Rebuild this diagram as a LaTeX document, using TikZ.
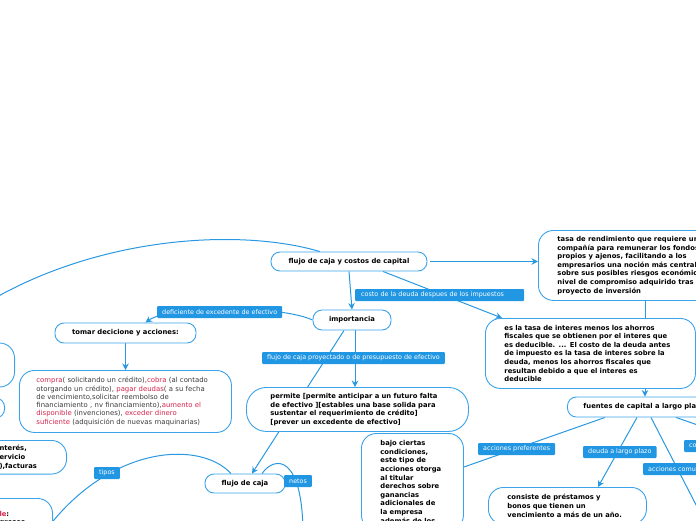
\documentclass[tikz,border=0pt]{standalone}
\usepackage{fontspec}
\setmainfont{DejaVu Sans}
\usetikzlibrary{arrows.meta,backgrounds}
\definecolor{mapblue}{HTML}{3AA3EA}
\definecolor{lineblue}{HTML}{2A98E0}
\definecolor{tagblue}{HTML}{2196E3}
\definecolor{accent}{HTML}{D6254D}
\definecolor{bodytext}{HTML}{3C3C3C}
\newcommand{\boldtext}{\fontsize{6.8}{8.6}\selectfont\bfseries}
\newcommand{\plaintext}{\fontsize{6.9}{8.3}\selectfont\color{bodytext}}
\newcommand{\tagtext}{\fontsize{6.4}{7}\selectfont}
\newcommand{\hl}[1]{\textcolor{accent}{#1}}
\begin{document}
\begin{tikzpicture}[x=1pt,y=-1pt]
	\tikzstyle{topic} = [draw=mapblue, line width=0.9pt, fill=white, rounded corners=9pt, font=\boldtext, inner xsep=8pt, inner ysep=2pt]
	\tikzstyle{bigtopic} = [topic, rounded corners=15pt, anchor=north west, align=left]
	\tikzstyle{tag} = [fill=tagblue, text=white, rounded corners=1pt, font=\tagtext, anchor=west, inner xsep=5pt, inner ysep=1pt, minimum height=12pt]
	\tikzstyle{link} = [draw=lineblue, line width=1pt]
	\tikzstyle{arr} = [link, -{Stealth[length=6.5pt,width=6.5pt]}]

	\useasboundingbox (0,0) rectangle (696,520);
	\clip (0,0) rectangle (696,520);

	% centre and right branch
	\node [topic, minimum width=156pt, minimum height=19pt] (main) at (349,261.5) {flujo de caja y costos de capital};
	\node [bigtopic, inner xsep=19pt, minimum height=70pt] (tasa) at (538,230) {tasa de rendimiento que requiere una\\compañía para remunerar los fondos\\propios y ajenos, facilitando a los\\empresarios una noción más central\\sobre sus posibles riesgos económicos y\\nivel de compromiso adquirido tras un\\proyecto de inversión};
	\node [topic, minimum width=78pt, minimum height=20pt] (imp) at (352,320) {importancia};
	\node [bigtopic, text width=172pt, inner xsep=19pt, minimum height=70pt] (deuda) at (485,318) {es la tasa de interes menos los ahorros\\fiscales que se obtienen por el interes que\\es deducible. ... El costo de la deuda antes\\de impuesto es la tasa de interes sobre la\\deuda, menos los ahorros fiscales que\\resultan debido a que el interes es\\deducible};
	\node [topic, anchor=west, inner xsep=16pt, minimum height=20pt] (fuentes) at (567,407) {fuentes de capital a largo plazo};
	\node [bigtopic, text width=64pt, inner xsep=19pt, inner ysep=7pt] (bajo) at (361,433) {bajo ciertas\\condiciones,\\este tipo de\\acciones otorga\\al titular\\derechos sobre\\ganancias\\adicionales de\\la empresa\\además de los};
	\node [bigtopic, text width=120pt, inner xsep=19pt, inner ysep=7pt] (consiste) at (488,487) {consiste de préstamos y\\bonos que tienen un\\vencimiento a más de un año.};

	% left branch
	\node [topic, minimum width=141pt, minimum height=20pt] (tomar) at (125.5,333) {tomar decicione y acciones:};
	\node [bigtopic, text width=178pt, inner xsep=17pt, minimum height=62pt, font=\plaintext] (compra) at (19,370) {\hl{compra}( solicitando un crédito),\hl{cobra} (al contado\\otorgando un crédito), \hl{pagar deudas}( a su fecha\\de vencimiento,solicitar reembolso de\\financiamiento , nv financiamiento),\hl{aumento el}\\\hl{disponible} (invenciones), \hl{exceder dinero}\\\hl{suficiente} (adquisición de nuevas maquinarias)};
	\node [bigtopic, rounded corners=20pt, text width=174pt, inner xsep=24pt, minimum height=44pt] (permite) at (246,387) {permite [permite anticipar a un futuro falta\\de efectivo ][estables una base solida para\\sustentar el requerimiento de crédito]\\{}[prever un excedente de efectivo]};
	\node [topic, minimum width=80pt, minimum height=19pt] (caja) at (245,483.5) {flujo de caja};
	\node [topic, anchor=east, rounded corners=15pt, minimum width=60pt, minimum height=44pt] (lbox1) at (15,365) {};
	\node [topic, anchor=east, minimum width=40pt, minimum height=20pt] (lbox2) at (5,408) {};
	\node [bigtopic, anchor=north east, text width=40pt, inner xsep=27pt, inner ysep=5pt] (lbox3) at (67,440) {nterés,\\ervicio\\),facturas};
	\node [bigtopic, anchor=north east, text width=34pt, inner xsep=19pt, inner ysep=5pt, minimum height=40pt] (lbox4) at (53,498) {\hl{le}:\\gresos};

	% free ends
	\coordinate (leftend) at (-12,302);
	\coordinate (netosend) at (303,535);
	\coordinate (tiposend) at (46,530);
	\coordinate (comunend) at (710,532);
	\coordinate (coend) at (712,430);

	\begin{scope}[on background layer]
		\draw [arr, shorten <=3pt] (main.east) -- (main.east -| tasa.west);
		\draw [arr] (main.south) -- (imp.north);
		\draw [arr] ([xshift=34pt]main.south) -- ([xshift=17pt]deuda.north west);
		\draw [arr] ([xshift=107pt]tasa.south west) -- ([xshift=78pt]fuentes.north west);
		\draw [link] ([xshift=-29pt]main.north) .. controls (240,228) and (100,236) .. (leftend);
		\draw [arr] (imp.west) .. controls (280,305) and (170,305) .. ([xshift=20pt]tomar.north);
		\draw [arr] (tomar.south) -- (tomar.south |- compra.north);
		\draw [arr] ([xshift=3pt]imp.south) -- ([xshift=109pt]permite.north west);
		\draw [arr] ([xshift=-8pt]imp.south) -- ([xshift=7pt]caja.north);
		\draw [link] ([xshift=17pt]caja.north) .. controls (275,455) and (303,455) .. (netosend);
		\draw [link] ([xshift=-14pt]caja.north) .. controls (200,440) and (110,445) .. (tiposend);
		\draw [link] ([xshift=38pt]fuentes.south west) -- ([yshift=-34pt]bajo.north east);
		\draw [arr] ([xshift=70pt]fuentes.south west) -- ([xshift=110pt]consiste.north west);
		\draw [link] ([xshift=84pt]fuentes.south west) -- (comunend);
		\draw [link] ([xshift=109pt]fuentes.south west) -- (coend);
	\end{scope}

	% labels on connectors
	\node [tag] (deflbl) at (157,312) {deficiente de excedente de efectivo};
	\node [tag, text width=157pt, inner xsep=6pt] (costolbl) at (355,295) {costo de la deuda despues de los impuestos};
	\node [tag] (proylbl) at (262,358) {flujo de caja proyectado o de presupuesto de efectivo};
	\node [tag] (netoslbl) at (284,481) {netos};
	\node [tag] (tiposlbl) at (94,473) {tipos};
	\node [tag] (preflbl) at (478,449) {acciones preferentes};
	\node [tag] (deudalbl) at (583,452) {deuda a largo plazo};
	\node [tag] (comunlbl) at (643,469) {acciones comunes};
	\node [tag] (colbl) at (684,446) {costo de capital};
\end{tikzpicture}
\end{document}
